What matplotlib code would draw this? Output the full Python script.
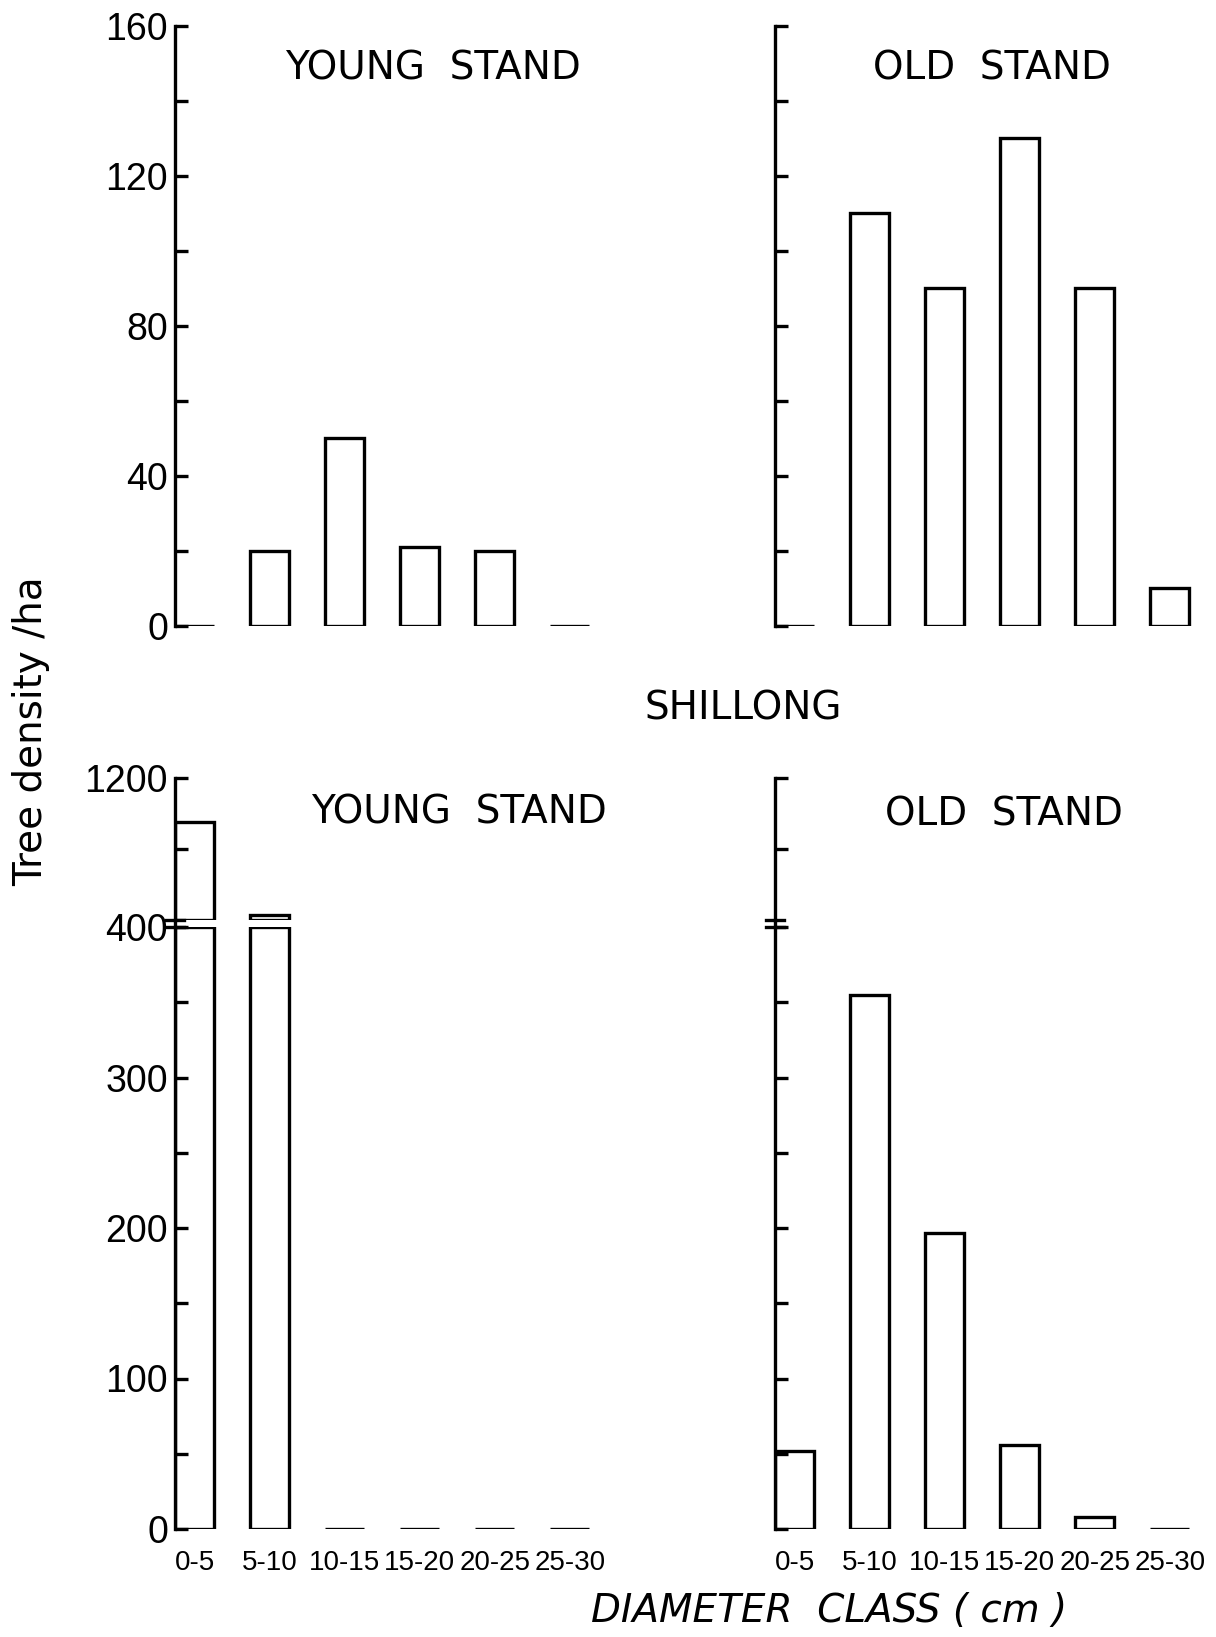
import matplotlib
matplotlib.use("Agg")
import matplotlib.pyplot as plt
from matplotlib.lines import Line2D

# Datos (arboles / ha por clase diametrica)
classes = ["0-5", "5-10", "10-15", "15-20", "20-25", "25-30"]
young_top = [0, 20, 50, 21, 20, 0]
old_top = [0, 110, 90, 130, 90, 10]
young_bottom = [950, 430, 0, 0, 0, 0]
old_bottom = [52, 355, 197, 56, 8, 0]

top_major = [0, 40, 80, 120, 160]
top_minor = [20, 60, 100, 140]
low_major = [0, 100, 200, 300, 400]
low_minor = [50, 150, 250, 350]
up_major = [1200]
up_minor = [800]
BREAK = 400

W, H = 1216, 1637
LW = 2.4
FONT = ["DejaVu Sans"]
NUMS = "Liberation Sans"   # digitos mas estrechos, como en el original


def box(x0, y_top, y_bot, width=440):
    # convierte pixeles (origen arriba-izquierda) a fracciones de figura
    return [x0 / W, 1 - y_bot / H, width / W, (y_bot - y_top) / H]


def style_axis(ax, labels=True):
    for s in ["top", "right", "bottom"]:
        ax.spines[s].set_visible(False)
    ax.spines["left"].set_linewidth(LW)
    ax.tick_params(axis="y", which="both", direction="in", length=9, width=LW,
                   labelsize=27, pad=5, labelleft=labels)
    ax.tick_params(axis="x", length=0, labelbottom=False)
    for t in ax.get_yticklabels():
        t.set_family(NUMS)
    ax.set_xlim(-0.26, 5.6)
    ax.patch.set_alpha(0)


def draw_bars(ax, values, bottom=0):
    ax.bar(range(len(values)), values, width=0.52, bottom=bottom,
           facecolor="white", edgecolor="black", linewidth=LW)


def main():
    plt.rcParams["font.family"] = FONT
    fig = plt.figure(figsize=(W / 100, H / 100), dpi=100)

    # Paneles superiores
    for x0, vals, lab in [(175, young_top, True), (775, old_top, False)]:
        ax = fig.add_axes(box(x0, 26, 626))
        draw_bars(ax, vals)
        ax.set_ylim(0, 160)
        ax.set_yticks(top_major)
        ax.set_yticks(top_minor, minor=True)
        style_axis(ax, lab)

    # Paneles inferiores con eje cortado en 400
    for x0, vals, lab in [(175, young_bottom, True), (775, old_bottom, False)]:
        low = fig.add_axes(box(x0, 927, 1529))
        draw_bars(low, [min(v, BREAK) for v in vals])
        low.set_ylim(0, BREAK)
        low.set_yticks(low_major)
        low.set_yticks(low_minor, minor=True)
        low.set_xticks(range(len(classes)))
        low.set_xticklabels(classes, family=NUMS)
        style_axis(low, lab)
        low.tick_params(axis="x", labelbottom=True, labelsize=20, pad=15)

        up = fig.add_axes(box(x0, 778, 920))
        over = [max(v - BREAK, 0) for v in vals]
        idx = [i for i, v in enumerate(over) if v > 0]
        up.bar(idx, [over[i] for i in idx], width=0.52, bottom=BREAK,
               facecolor="white", edgecolor="black", linewidth=LW)
        up.set_ylim(BREAK, 1200)
        up.set_yticks(up_major)
        up.set_yticks(up_minor, minor=True)
        style_axis(up, lab)

        # marca de corte sobre el eje
        for yy in (920, 927):
            fig.add_artist(Line2D([(x0 - 9) / W, (x0 + 9) / W], [1 - yy / H] * 2,
                                  color="black", lw=LW))
        fig.add_artist(Line2D([x0 / W] * 2, [1 - 927 / H, 1 - 920 / H],
                              color="black", lw=LW))

    # Textos
    kw = dict(fontsize=28, ha="center", va="center")
    fig.text(433 / W, 1 - 68 / H, "YOUNG  STAND", **kw)
    fig.text(992 / W, 1 - 68 / H, "OLD  STAND", **kw)
    fig.text(743 / W, 1 - 708 / H, "SHILLONG", **kw)
    fig.text(459 / W, 1 - 812 / H, "YOUNG  STAND", **kw)
    fig.text(1004 / W, 1 - 814 / H, "OLD  STAND", **kw)
    fig.text(31 / W, 1 - 731 / H, "Tree density /ha", fontsize=28, rotation=90,
             ha="center", va="center")
    fig.text(829 / W, 1 - 1611 / H, "DIAMETER  CLASS ( cm )", style="italic", **kw)

    fig.savefig("out.png", dpi=100)


if __name__ == "__main__":
    main()
